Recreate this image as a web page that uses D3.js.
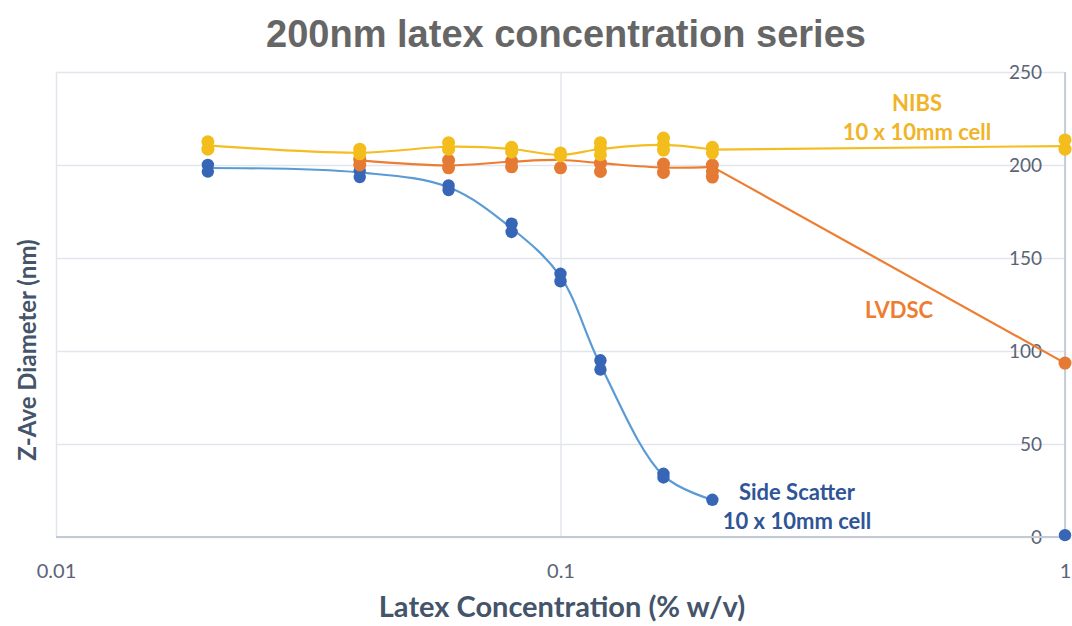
<!DOCTYPE html>
<html>
<head>
<meta charset="utf-8">
<script src="https://cdn.jsdelivr.net/npm/d3@7"></script>
<style>
  html, body { margin: 0; padding: 0; background: #fff; }
  svg { display: block; }
</style>
</head>
<body>
<svg id="chart" width="1072" height="626"></svg>
<script>
// ---------- DATA ----------
const concentrations = [0.02, 0.04, 0.06, 0.08, 0.1, 0.12, 0.16, 0.2, 1];
const xTickValues = [0.01, 0.1, 1];
const xTickLabels = ["0.01", "0.1", "1"];
const yTickValues = [0, 50, 100, 150, 200, 250];

// Side Scatter replicate measurements (nm), per concentration
const sideScatterPoints = [[200, 196.5], [197, 193.5], [189, 186.5], [168.5, 164], [141.5, 137.5], [95, 90], [34, 32], [20], [1]];
// Side Scatter smoothed trend (averages), up to 0.2 %
const sideScatterLine = [198.4, 196, 188, 166, 140, 92.5, 33, 20, null];

// LVDSC replicate measurements (starts at 0.04 %)
const lvdscPoints = [[], [203, 200], [202.5, 198.5], [202, 199], [198.5], [201, 196.5], [200.5, 196], [200, 196.5, 193.5], [93.5]];
const lvdscLine = [null, 202.5, 199.8, 201.8, 202.7, 201, 198.6, 199, 93.5];

// NIBS replicate measurements
const nibsPoints = [[212.5, 208.5], [208.5, 206], [212, 208.5], [209.5, 207], [206.5, 205], [212, 209, 205.5], [214.5, 211, 208], [209.5, 206.5], [213.5, 208.5]];
const nibsLine = [210.6, 206.6, 209.8, 208.6, 205.4, 208.6, 210.8, 208.3, 210.2];

const titleText = "200nm latex concentration series";
const xLabel = "Latex Concentration (% w/v)";
const yLabel = "Z-Ave Diameter (nm)";

// ---------- LAYOUT ----------
const svg = d3.select("#chart");
const pLeft = 56, pRight = 1065, pTop = 72, pBottom = 537;

const x = d3.scaleLog().domain([0.01, 1]).range([pLeft, pRight]);
const y = d3.scaleLinear().domain([0, 250]).range([pBottom, pTop]);

const gridColor = "#e2e6ec";
const axisColor = "#c3cad6";
const tickColor = "#5a6476";
const calibri = "Lato, 'Open Sans', sans-serif";

// Title
svg.append("text")
  .attr("x", 566).attr("y", 47)
  .attr("text-anchor", "middle")
  .attr("font-family", "'Liberation Sans', Arial, sans-serif")
  .attr("font-weight", "bold")
  .attr("font-size", 38)
  .attr("fill", "#666666")
  .text(titleText);

// Horizontal gridlines + value axis labels (axis sits at the right)
const yAxis = d3.axisLeft(y)
  .tickValues(yTickValues)
  .tickSize(pLeft - pRight)
  .tickPadding(23)
  .tickFormat(d3.format("d"));
const gy = svg.append("g").attr("transform", `translate(${pRight},0)`).call(yAxis);
gy.select(".domain").remove();
gy.selectAll(".tick line").attr("stroke", gridColor).attr("stroke-width", 1.5)
  .attr("x1", 0).attr("x2", pLeft - pRight);
gy.selectAll(".tick text")
  .attr("font-family", calibri).attr("font-size", 19).attr("fill", tickColor)
  .attr("x", -23);

// Vertical gridlines + x tick labels
const xAxis = d3.axisBottom(x)
  .tickValues(xTickValues)
  .tickSize(-(pBottom - pTop))
  .tickPadding(27)
  .tickFormat(d => xTickLabels[xTickValues.indexOf(d)]);
const gx = svg.append("g").attr("transform", `translate(0,${pBottom})`).call(xAxis);
gx.select(".domain").remove();
gx.selectAll(".tick line").attr("stroke", gridColor).attr("stroke-width", 1.5);
gx.selectAll(".tick text")
  .attr("font-family", calibri).attr("font-size", 20).attr("fill", tickColor);

// Bottom axis line & right axis line
svg.append("line").attr("x1", pLeft).attr("x2", pRight).attr("y1", y(0)).attr("y2", y(0))
  .attr("stroke", axisColor).attr("stroke-width", 1.8);
svg.append("line").attr("x1", pRight).attr("x2", pRight).attr("y1", y(250)).attr("y2", y(0))
  .attr("stroke", axisColor).attr("stroke-width", 1.8);

// Axis titles
svg.append("text")
  .attr("x", 562).attr("y", 617)
  .attr("text-anchor", "middle")
  .attr("font-family", calibri).attr("font-weight", "bold").attr("font-size", 29)
  .attr("fill", "#44546a")
  .text(xLabel);
svg.append("text")
  .attr("transform", "translate(36,350) rotate(-90)")
  .attr("text-anchor", "middle")
  .attr("font-family", calibri).attr("font-weight", "bold").attr("font-size", 24)
  .attr("fill", "#44546a")
  .text(yLabel);

// ---------- SERIES ----------
const smooth = d3.line()
  .x(d => x(d[0])).y(d => y(d[1]))
  .curve(d3.curveCatmullRom.alpha(0.5));
const straight = d3.line()
  .x(d => x(d[0])).y(d => y(d[1]));

function drawSeries(lineVals, pts, lineColor, dotColor, r) {
  const lineData = concentrations.map((c, i) => [c, lineVals[i]]).filter(d => d[1] !== null);
  // smoothed part over the dense low-concentration region, straight to 1 %
  const dense = lineData.filter(d => d[0] <= 0.2);
  const tail = lineData.filter(d => d[0] >= 0.2);
  const g = svg.append("g");
  g.append("path").datum(dense)
    .attr("d", smooth).attr("fill", "none")
    .attr("stroke", lineColor).attr("stroke-width", 2.2);
  if (tail.length > 1) {
    g.append("path").datum(tail)
      .attr("d", straight).attr("fill", "none")
      .attr("stroke", lineColor).attr("stroke-width", 2.2);
  }
  const dots = [];
  concentrations.forEach((c, i) => pts[i].forEach(v => dots.push([c, v])));
  g.append("g").selectAll("circle").data(dots).join("circle")
    .attr("cx", d => x(d[0])).attr("cy", d => y(d[1])).attr("r", r)
    .attr("fill", dotColor);
}

drawSeries(sideScatterLine, sideScatterPoints, "#5b9bd5", "#3866b6", 6.2);
drawSeries(lvdscLine, lvdscPoints, "#ed7d31", "#e57a34", 6.5);
drawSeries(nibsLine, nibsPoints, "#f4bd21", "#f3bd1c", 6.5);

// ---------- SERIES LABELS ----------
function label(lines, cx, cy, color, dy) {
  const t = svg.append("text")
    .attr("text-anchor", "middle")
    .attr("font-family", calibri).attr("font-weight", "bold").attr("font-size", 22)
    .attr("fill", color);
  lines.forEach((s, i) => t.append("tspan").attr("x", cx).attr("y", cy + i * dy).text(s));
}
label(["NIBS", "10 x 10mm cell"], 917, 111, "#f0b429", 29);
label(["LVDSC"], 899, 318, "#ed7d31", 29);
label(["Side Scatter", "10 x 10mm cell"], 797, 500, "#2f5597", 29);
</script>
</body>
</html>
